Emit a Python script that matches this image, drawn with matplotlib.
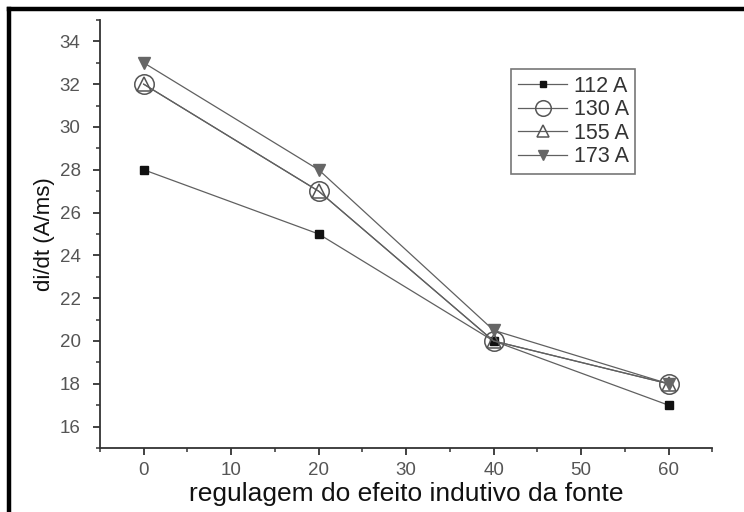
import matplotlib
matplotlib.use("Agg")
import matplotlib.pyplot as plt
from matplotlib.ticker import MultipleLocator

plt.rcParams['font.family'] = ['Liberation Sans', 'DejaVu Sans']

# indutância (regulagem) e di/dt para cada corrente
regulagem = [0, 20, 40, 60]
i112 = [28, 25, 20, 17]
i130 = [32, 27, 20, 18]
i155 = [32, 27, 20, 18]
i173 = [33, 28, 20.5, 18]

fig = plt.figure(figsize=(7.44, 5.12), dpi=100)
ax = fig.add_axes([0.1344, 0.125, 0.823, 0.836])

cor_linha = '#606060'
ax.plot(regulagem, i112, '-s', color=cor_linha, lw=0.9, ms=6,
        mfc='#111111', mec='#111111', label='112 A')
ax.plot(regulagem, i130, '-o', color=cor_linha, lw=0.9, ms=14,
        mfc='none', mec='#555555', mew=1.1, label='130 A')
ax.plot(regulagem, i155, '-^', color=cor_linha, lw=0.9, ms=10,
        mfc='none', mec='#555555', mew=1.1, label='155 A')
ax.plot(regulagem, i173, '-v', color=cor_linha, lw=0.9, ms=9,
        mfc='#666666', mec='#666666', label='173 A')

ax.set_xlim(-5, 65)
ax.set_ylim(15, 35)
ax.xaxis.set_major_locator(MultipleLocator(10))
ax.xaxis.set_minor_locator(MultipleLocator(5))
ax.yaxis.set_major_locator(MultipleLocator(2))
ax.yaxis.set_minor_locator(MultipleLocator(1))

for lado in ['top', 'right']:
    ax.spines[lado].set_visible(False)
for lado in ['left', 'bottom']:
    ax.spines[lado].set_color('#333333')
    ax.spines[lado].set_linewidth(1.3)

ax.tick_params(which='major', direction='out', length=5, width=1.3,
               color='#333333', labelcolor='#555555', labelsize=13.5)
ax.tick_params(axis='y', which='major', pad=9)
ax.tick_params(axis='x', which='major', pad=5)
ax.tick_params(which='minor', direction='out', length=3, width=1.1,
               color='#333333')

ax.set_xlabel('regulagem do efeito indutivo da fonte', fontsize=19,
              color='#111111', labelpad=2)
ax.set_ylabel('di/dt (A/ms)', fontsize=16, color='#111111', labelpad=3)

leg = ax.legend(loc='upper left', bbox_to_anchor=(0.672, 0.885),
                fontsize=15.5, handlelength=2.3, handletextpad=0.3,
                borderpad=0.3, labelspacing=0.12, borderaxespad=0,
                markerscale=0.8, fancybox=False, framealpha=1,
                edgecolor='#777777')
leg.get_frame().set_linewidth(1.2)
for t in leg.get_texts():
    t.set_color('#333333')

# moldura preta (só esquerda e topo)
fig.add_artist(plt.Line2D([9 / 744, 9 / 744], [0, 1 - 9 / 512],
                          transform=fig.transFigure, color='black', lw=3.2,
                          solid_capstyle='projecting'))
fig.add_artist(plt.Line2D([9 / 744, 1], [1 - 9 / 512, 1 - 9 / 512],
                          transform=fig.transFigure, color='black', lw=3.2,
                          solid_capstyle='projecting'))

fig.savefig('out.png', dpi=100)
